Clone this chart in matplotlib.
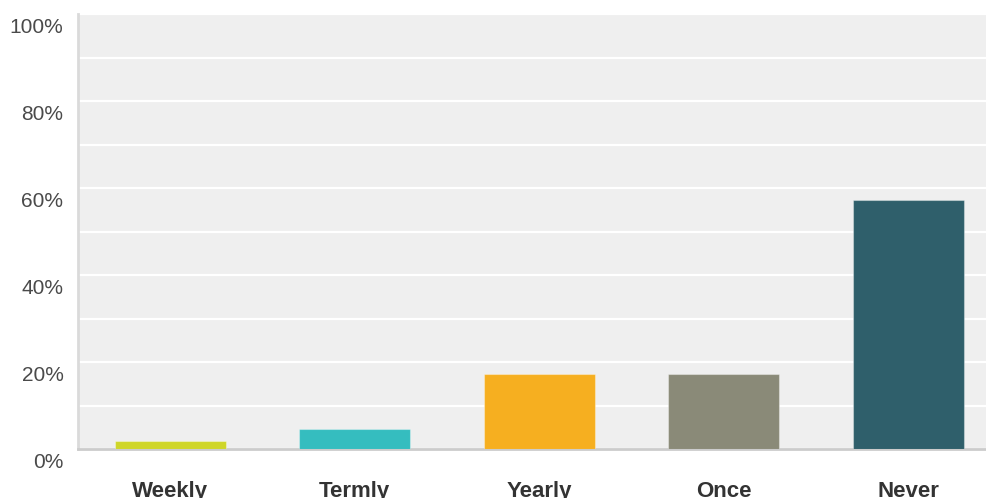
import matplotlib
matplotlib.use("Agg")
import matplotlib.pyplot as plt
import matplotlib.transforms as mtransforms

categories = ["Weekly", "Termly", "Yearly", "Once", "Never"]
values = [1.9, 4.6, 17.3, 17.3, 57.3]
colors = ["#cfd628", "#35bdbf", "#f6af20", "#8a8a78", "#2f5f6b"]
ytick_vals = [0, 20, 40, 60, 80, 100]
ytick_labels = ["0%", "20%", "40%", "60%", "80%", "100%"]

plt.rcParams["font.family"] = ["Liberation Sans", "DejaVu Sans"]

W, H = 987, 498
fig = plt.figure(figsize=(W / 100, H / 100), dpi=100)
ax = fig.add_axes([78 / W, (H - 449) / H, (W - 78) / W, (449 - 14.5) / H])
ax.set_facecolor("#efefef")

x = list(range(len(categories)))
ax.bar(x, values, width=0.602, color=colors, edgecolor=(1, 1, 1, 0.35),
       linewidth=0.8, zorder=3)

ax.set_xlim(-0.5, -0.5 + (W - 78) / 184.5)
ax.set_ylim(0, 100)
ax.set_yticks(ytick_vals)
ax.set_yticklabels(ytick_labels, fontsize=15, color="#4a4a4a")
ax.set_yticks(range(10, 100, 20), minor=True)
ax.yaxis.grid(True, which="both", color="white", linewidth=1.6, zorder=1)
ax.tick_params(axis="y", which="both", length=0, pad=10.5)

ax.set_xticks(x)
ax.set_xticklabels(categories, fontsize=16, fontweight="bold", color="#333333")
ax.tick_params(axis="x", length=0, pad=23)

# labels sit just below their gridlines
off = mtransforms.ScaledTranslation(0, -11 / 100, fig.dpi_scale_trans)
for lab in ax.get_yticklabels():
    lab.set_transform(lab.get_transform() + off)

for s in ["top", "right"]:
    ax.spines[s].set_visible(False)
ax.spines["left"].set_color("#dadada")
ax.spines["left"].set_linewidth(2)
ax.spines["bottom"].set_color("#cccccc")
ax.spines["bottom"].set_linewidth(2)
ax.set_axisbelow(True)

fig.savefig("out.png", dpi=100)
